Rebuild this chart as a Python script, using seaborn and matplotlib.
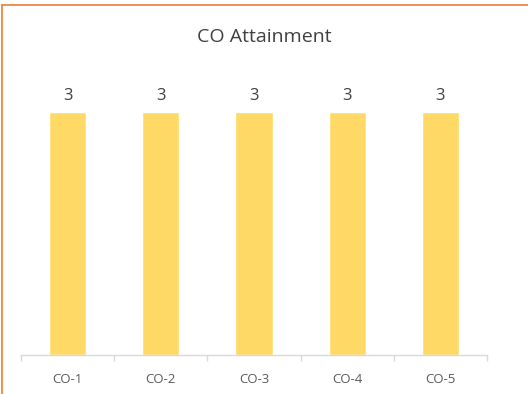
import numpy as np
import matplotlib.pyplot as plt
import seaborn as sns
from matplotlib.lines import Line2D

# Données du graphique
categories = ["CO-1", "CO-2", "CO-3", "CO-4", "CO-5"]
attainment = [3, 3, 3, 3, 3]

sns.set_style("white")
plt.rcParams['font.family'] = ['Open Sans', 'DejaVu Sans']

fig = plt.figure(figsize=(5.28, 3.94), dpi=100)
ax = fig.add_axes([21/528, 39/394, 466/528, 283.5/394])

sns.barplot(x=categories, y=attainment, color="#FFD966", width=0.4,
            saturation=1, ax=ax)

ax.set_xlim(-0.5, 4.5)
ax.set_ylim(0, 3.5)
ax.set_xlabel("")
ax.set_ylabel("")
ax.set_yticks([])
for s in ["top", "right", "left"]:
    ax.spines[s].set_visible(False)
ax.spines["bottom"].set_color("#D9D9D9")
ax.spines["bottom"].set_linewidth(1)

# petites graduations entre les catégories
ax.set_xticks(np.arange(-0.5, 5, 1), minor=True)
ax.tick_params(axis="x", which="minor", bottom=True, length=4,
               color="#D9D9D9", width=1, direction="out")
ax.tick_params(axis="x", which="major", length=0, pad=13,
               labelsize=9.5, labelcolor="#595959")

# étiquettes des valeurs
for i, v in enumerate(attainment):
    ax.text(i, v + 0.1, str(v), ha="center", va="bottom",
            fontsize=12, color="#404040")

fig.text(0.5, 1 - 37/394, "CO Attainment", ha="center", va="center",
         fontsize=14, color="#404040")

# cadre orange (haut et gauche)
fig.add_artist(Line2D([2/528, 1], [1 - 5/394, 1 - 5/394],
                      color="#ED7D31", lw=1.2, transform=fig.transFigure))
fig.add_artist(Line2D([2/528, 2/528], [0, 1 - 5/394],
                      color="#ED7D31", lw=1.2, transform=fig.transFigure))

fig.savefig("out.png", dpi=100)
